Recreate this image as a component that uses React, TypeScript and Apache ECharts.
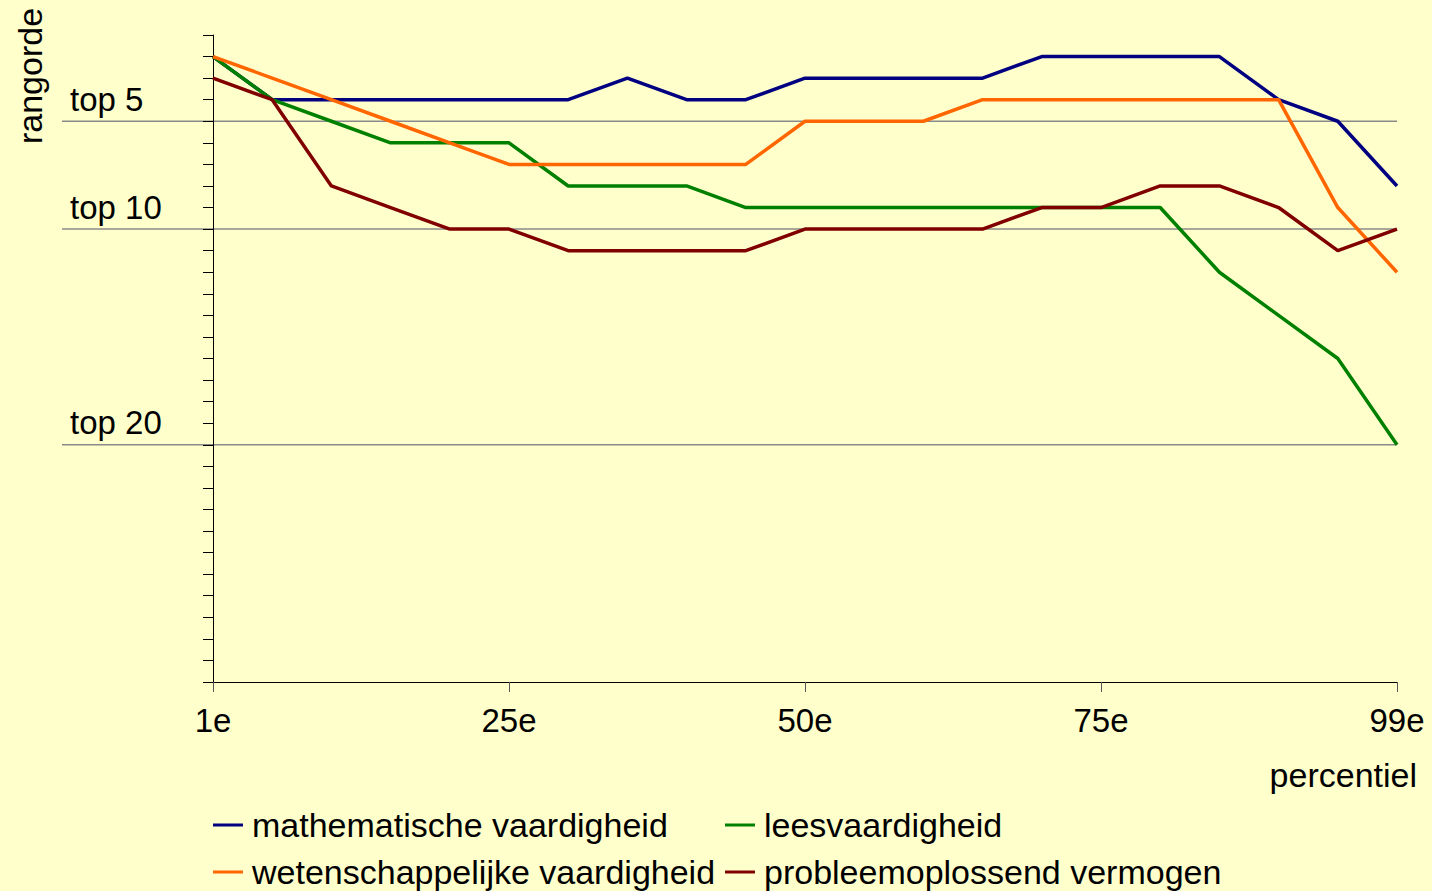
import React, { useEffect, useRef } from "react";
import * as echarts from "echarts";

const categories = ["1e","5e","10e","15e","20e","25e","30e","35e","40e","45e","50e","55e","60e","65e","70e","75e","80e","85e","90e","95e","99e"];

const seriesNames = [
  "mathematische vaardigheid",
  "leesvaardigheid",
  "wetenschappelijke vaardigheid",
  "probleemoplossend vermogen",
];
const mathValues = [2,4,4,4,4,4,4,3,4,4,3,3,3,3,2,2,2,2,4,5,8];
const leesValues = [2,4,5,6,6,6,8,8,8,9,9,9,9,9,9,9,9,12,14,16,20];
const wetValues = [2,3,4,5,6,7,7,7,7,7,5,5,5,4,4,4,4,4,4,9,12];
const probValues = [3,4,8,9,10,10,11,11,11,11,10,10,10,10,9,9,8,8,9,11,10];
const seriesColors = ["#000080", "#008000", "#FF6600", "#800000"];

const topLevels = [5, 10, 20];
const topLabels = ["top 5", "top 10", "top 20"];

const yAxisName = "rangorde";
const xAxisName = "percentiel";

const FONT = "Liberation Sans, Arial, sans-serif";

export default function App() {
  const ref = useRef<HTMLDivElement>(null);
  useEffect(() => {
    if (!ref.current) return;
    const chart = echarts.init(ref.current, undefined, { renderer: "svg" });
    const values = [mathValues, leesValues, wetValues, probValues];
    const legendBase = {
      orient: "vertical",
      top: 808,
      height: 83,
      padding: 0,
      itemWidth: 30,
      itemHeight: 3,
      itemGap: 13,
      icon: "rect",
      textStyle: { fontSize: 34, lineHeight: 33, fontFamily: FONT, color: "#000", padding: [0, 0, 0, 4] },
    };
    chart.setOption({
      animation: false,
      backgroundColor: "#FFFFCC",
      grid: { left: 213, right: 35, top: 35, bottom: 209, containLabel: false },
      xAxis: {
        type: "category",
        data: categories,
        boundaryGap: false,
        axisLine: { show: true, lineStyle: { color: "#000", width: 1 } },
        axisTick: { show: true, interval: 4, length: 10, lineStyle: { color: "#555", width: 1 } },
        axisLabel: { interval: 4, fontSize: 33, fontFamily: FONT, color: "#000", margin: 22 },
        splitLine: { show: false },
      },
      yAxis: {
        type: "value",
        inverse: true,
        min: 1,
        max: 31,
        interval: 1,
        axisLine: { show: true, lineStyle: { color: "#000", width: 1 } },
        axisTick: { show: true, length: 10, lineStyle: { color: "#000", width: 1 } },
        axisLabel: { show: false },
        splitLine: { show: false },
      },
      legend: [
        { ...legendBase, left: 213, data: [seriesNames[0], seriesNames[2]] },
        { ...legendBase, left: 725, data: [seriesNames[1], seriesNames[3]] },
      ],
      series: seriesNames.map((name, i) => ({
        name,
        type: "line",
        data: values[i],
        symbol: "none",
        color: seriesColors[i],
        lineStyle: { color: seriesColors[i], width: 3.5 },
        itemStyle: { color: seriesColors[i] },
      })),
    });

    const xRight = chart.convertToPixel({ xAxisIndex: 0 }, categories[categories.length - 1]) as number;
    const elements: any[] = [];
    topLevels.forEach((lvl, i) => {
      const y = chart.convertToPixel({ yAxisIndex: 0 }, lvl) as number;
      elements.push({
        type: "line",
        z: 0,
        shape: { x1: 62, y1: y, x2: xRight, y2: y },
        style: { stroke: "#8a8a8a", lineWidth: 1.5 },
      });
      elements.push({
        type: "text",
        z: 10,
        style: {
          text: topLabels[i],
          x: 70,
          y: y - 22,
          font: `33px ${FONT}`,
          fill: "#000",
          align: "left",
          verticalAlign: "middle",
          textAlign: "left",
          textVerticalAlign: "middle",
        },
      });
    });
    elements.push({
      type: "text",
      x: 30,
      y: 76,
      rotation: Math.PI / 2,
      style: {
        text: yAxisName,
        x: 0,
        y: 0,
        font: `34px ${FONT}`,
        fill: "#000",
        align: "center",
        verticalAlign: "middle",
        textAlign: "center",
        textVerticalAlign: "middle",
      },
    });
    elements.push({
      type: "text",
      style: {
        text: xAxisName,
        x: 1417,
        y: 775,
        font: `34px ${FONT}`,
        fill: "#000",
        align: "right",
        verticalAlign: "middle",
        textAlign: "right",
        textVerticalAlign: "middle",
      },
    });
    chart.setOption({ graphic: { elements } });

    return () => chart.dispose();
  }, []);
  return (
    <div
      ref={ref}
      style={{ position: "fixed", left: 0, top: 0, width: 1432, height: 891 }}
    />
  );
}
